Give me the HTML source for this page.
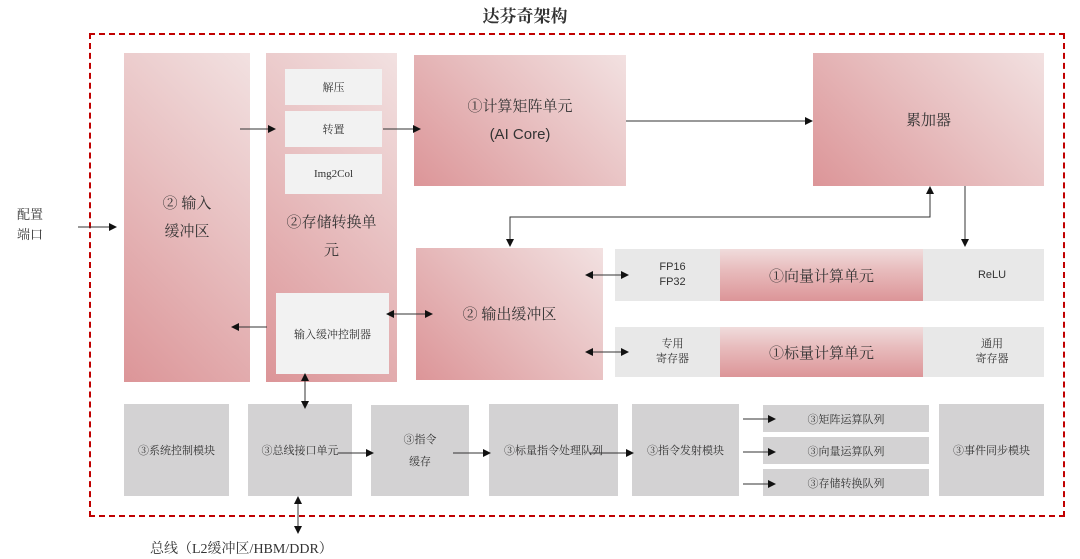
<!DOCTYPE html>
<html><head><meta charset="utf-8"><style>
body{margin:0;width:1080px;height:559px;background:#fff;position:relative;overflow:hidden;font-family:"Liberation Serif","Noto Serif CJK SC",serif;color:#333}
.b{position:absolute;display:flex;align-items:center;justify-content:center;text-align:center;box-sizing:border-box}
.p{background:linear-gradient(45deg,#dc9598 0%,#e8c0c1 55%,#f2e1e1 100%)}
.ph{background:linear-gradient(0deg,#dc9598 0%,#e8bcbd 60%,#f0dcdc 100%)}
.g{background:#d3d2d3;font-size:11px}
.l{background:#e8e8e8;font-size:11px}
.w{background:#f2f2f2;font-size:11px}
.t{font-size:15px;line-height:28px}
</style></head><body>
<div class="b" style="left:425px;top:2px;width:200px;height:24px;font-size:17px;font-weight:bold">达芬奇架构</div>
<div style="position:absolute;left:89px;top:33px;width:976px;height:484px;border:2px dashed #c00000;box-sizing:border-box"></div>
<div class="b" style="left:10px;top:205px;width:40px;height:40px;font-size:13px;line-height:20px">配置<br>端口</div>

<div class="b p t" style="left:124px;top:53px;width:126px;height:329px">②&nbsp;输入<br>缓冲区</div>
<div class="b p" style="left:266px;top:53px;width:131px;height:329px"></div>
<div class="b t" style="left:266px;top:207px;width:131px;height:60px">②存储转换单<br>元</div>
<div class="b w" style="left:285px;top:69px;width:97px;height:36px">解压</div>
<div class="b w" style="left:285px;top:111px;width:97px;height:36px">转置</div>
<div class="b w" style="left:285px;top:154px;width:97px;height:40px">Img2Col</div>
<div class="b w" style="left:276px;top:293px;width:113px;height:81px">输入缓冲控制器</div>

<div class="b p t" style="left:414px;top:55px;width:212px;height:131px;font-family:'Liberation Sans','Noto Serif CJK SC',sans-serif">①计算矩阵单元<br>(AI Core)</div>
<div class="b p" style="left:813px;top:53px;width:231px;height:133px;font-size:15px">累加器</div>
<div class="b p" style="left:416px;top:248px;width:187px;height:132px;font-size:15px;padding-bottom:2px">②&nbsp;输出缓冲区</div>

<div class="b l" style="left:615px;top:249px;width:429px;height:52px"></div>
<div class="b" style="left:615px;top:249px;width:115px;height:52px;font-size:11px;font-family:'Liberation Sans',sans-serif;line-height:15px">FP16<br>FP32</div>
<div class="b ph" style="left:720px;top:249px;width:203px;height:52px;font-size:15px">①向量计算单元</div>
<div class="b" style="left:940px;top:249px;width:104px;height:52px;font-size:11px;font-family:'Liberation Sans',sans-serif">ReLU</div>
<div class="b l" style="left:615px;top:327px;width:429px;height:50px"></div>
<div class="b" style="left:615px;top:327px;width:115px;height:50px;font-size:11px;line-height:15px">专用<br>寄存器</div>
<div class="b ph" style="left:720px;top:327px;width:203px;height:50px;font-size:15px">①标量计算单元</div>
<div class="b" style="left:940px;top:327px;width:104px;height:50px;font-size:11px;line-height:15px">通用<br>寄存器</div>

<div class="b g" style="left:124px;top:404px;width:105px;height:92px">③系统控制模块</div>
<div class="b g" style="left:248px;top:404px;width:104px;height:92px">③总线接口单元</div>
<div class="b g" style="left:371px;top:405px;width:98px;height:91px;line-height:22px">③指令<br>缓存</div>
<div class="b g" style="left:489px;top:404px;width:129px;height:92px">③标量指令处理队列</div>
<div class="b g" style="left:632px;top:404px;width:107px;height:92px">③指令发射模块</div>
<div class="b g" style="left:763px;top:405px;width:166px;height:27px">③矩阵运算队列</div>
<div class="b g" style="left:763px;top:437px;width:166px;height:27px">③向量运算队列</div>
<div class="b g" style="left:763px;top:469px;width:166px;height:27px">③存储转换队列</div>
<div class="b g" style="left:939px;top:404px;width:105px;height:92px">③事件同步模块</div>
<div class="b" style="left:150px;top:538px;width:220px;height:20px;font-size:14px;justify-content:flex-start">总线（L2缓冲区/HBM/DDR）</div>

<svg width="1080" height="559" style="position:absolute;left:0;top:0">
<defs><marker id="a" markerWidth="8" markerHeight="8" refX="7" refY="4" orient="auto-start-reverse" markerUnits="userSpaceOnUse"><path d="M0,0L8,4L0,8z" fill="#111"/></marker></defs>
<g stroke="#333" stroke-width="1" fill="none">
<path d="M78 227H116" marker-end="url(#a)"/>
<path d="M240 129H275" marker-end="url(#a)"/>
<path d="M383 129H420" marker-end="url(#a)"/>
<path d="M626 121H812" marker-end="url(#a)"/>
<path d="M965 186V246" marker-end="url(#a)"/>
<path d="M930 187V217H510V246" marker-start="url(#a)" marker-end="url(#a)"/>
<path d="M586 275H628" marker-start="url(#a)" marker-end="url(#a)"/>
<path d="M586 352H628" marker-start="url(#a)" marker-end="url(#a)"/>
<path d="M387 314H432" marker-start="url(#a)" marker-end="url(#a)"/>
<path d="M267 327H232" marker-end="url(#a)"/>
<path d="M305 374V408" marker-start="url(#a)" marker-end="url(#a)"/>
<path d="M298 497V533" marker-start="url(#a)" marker-end="url(#a)"/>
<path d="M338 453H373" marker-end="url(#a)"/>
<path d="M453 453H490" marker-end="url(#a)"/>
<path d="M590 453H633" marker-end="url(#a)"/>
<path d="M743 419H775" marker-end="url(#a)"/>
<path d="M743 452H775" marker-end="url(#a)"/>
<path d="M743 484H775" marker-end="url(#a)"/>
</g></svg>
</body></html>
